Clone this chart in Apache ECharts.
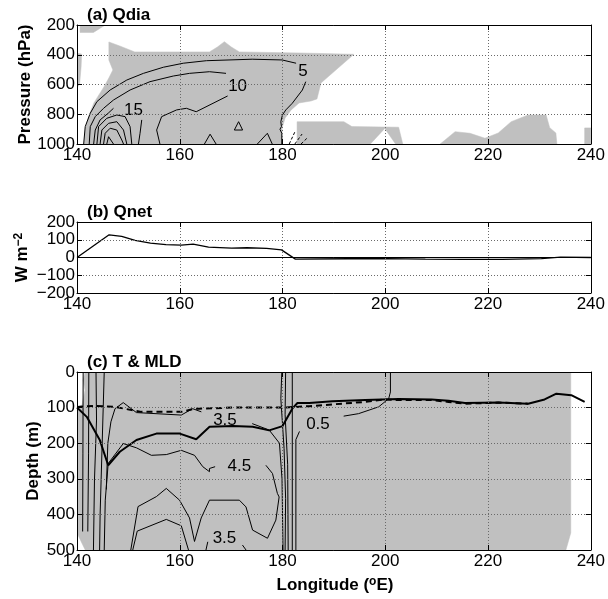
<!DOCTYPE html>
<html><head><meta charset="utf-8">
<script src="https://cdn.jsdelivr.net/npm/echarts@6.0.0/dist/echarts.min.js"></script>
<style>html,body{margin:0;padding:0;background:#fff}#c{width:608px;height:599px}</style>
</head><body><div id="c"></div><script>
// ---------- ticks ----------
const lonTicks=[140,160,180,200,220,240];
const presTicks=[200,400,600,800,1000];
const qnetTicks=[-200,-100,0,100,200];
const depthTicks=[0,100,200,300,400,500];

// ---------- (a) Qdia shading (lon, hPa) ----------
const qdiaShadeMain=[[141.36,1000],[141.65,885],[142.52,791],[143.29,724],[144.26,670],[145.23,617],[146.2,556],[146.98,502],[146.2,435],[146.2,314],[148.33,341],[151.24,381],[165.78,381],[167.33,348],[168.68,312],[170.04,348],[171.59,381],[183.22,388],[193.88,397],[187.48,590],[186.7,697],[185.54,711],[183.22,724],[181.67,771],[180.5,825],[179.92,892],[179.92,1000]];
const qdiaShadeTopLeft=[[140.6,200],[145.5,200],[143.2,250],[140.6,250]];
const qdiaShadeLeftEdge=[[140,390],[140.9,395],[140.8,480],[140.5,600],[140,620]];
const qdiaShadeStrip=[[182.83,1000],[182.83,850],[191.94,850],[193.5,883],[202.6,887],[203.4,1000],[202.0,1000],[199.9,895],[197.1,1000]];
const qdiaShadeEast=[[210.68,1000],[213.59,917],[216.49,928],[219.4,961],[221.98,926],[224.5,850],[227.8,805],[231.3,805],[232.0,890],[233.2,926],[233.4,1000]];
const qdiaShadeEdge=[[238.8,1000],[238.8,892],[240,892],[240,1000]];

// ---------- (a) Qdia contours ----------
const qdia5a=[[141.3,1000],[141.6,883],[142.58,793],[143.88,715],[146.45,637],[149.69,570],[152.93,525],[156.8,484],[160.68,457],[165.19,440],[174.1,430],[179.92,435],[182.64,457]];
const qdia5b=[[184.52,581],[183.86,637],[181.9,726],[180.64,771],[179.98,805],[179.67,850],[179.79,883],[179.5,901],[179.86,928],[179.86,1000]];
const qdia10a=[[142.38,1000],[142.58,883],[143.55,816],[145.17,760],[147.11,704],[150.33,637],[154.2,581],[158.74,543],[161.9,525],[165.78,514],[169.0,525]];
const qdia10b=[[169.32,677],[163.2,783],[161.3,760],[159.38,771],[156.47,816],[155.5,906],[156.14,1000]];
const qdia15a=[[143.24,1000],[143.55,906],[144.5,838],[146.07,793],[147.1,760]];
const qdia15b=[[152.6,838],[152.27,928],[151.96,1000]];
const qdia20=[[143.88,1000],[144.2,883],[145.8,827],[147.75,805],[149.36,816],[150.33,883],[150.66,1000]];
const qdia25=[[144.5,1000],[144.84,906],[146.14,861],[147.75,850],[149.05,906],[149.69,1000]];
const qdia30=[[145.17,1000],[145.48,928],[146.45,894],[147.75,906],[148.72,973],[149.05,1000]];
const qdia35=[[145.8,1000],[146.14,951],[147.1,1000]];
const qdiaTri1=[[170.62,906],[171.45,850],[172.23,906],[170.62,906]];
const qdiaTri2=[[164.8,1000],[165.9,934],[167.07,1000]];
const qdiaTri3=[[175.1,1000],[177.05,928],[178.0,1000]];
const qdiaNeg1=[[181.3,1000],[182.4,919]];
const qdiaNeg2=[[182.4,1000],[183.8,933]];
const qdiaNeg3=[[183.6,1000],[185.0,953]];
const qdiaLabels=[[184.0,514,'5'],[171.26,615,'10'],[151.0,771,'15']];

// ---------- (b) Qnet ----------
const qnetLon=[140,146.25,148.7,151.3,154.3,157.3,160.3,162.6,165.6,170.1,173.1,176.9,179.8,182.5,192.7,200.2,207.8,215.3,222.8,230.4,234.1,240];
const qnetVal=[0,128,119,96,81,72,70,75,58,53,55,51,43,-9,-7,-6,-9,-11,-11,-6,2,0];

// ---------- (c) T & MLD ----------
const tShade=[[140,100],[140.97,93],[141.55,51],[141.2,23],[141.55,0],[236.1,0],[236.1,452],[235.15,500],[141.6,500],[140,452]];
const mldLon=[140,141.9,144.46,146.07,148.33,151.57,155.45,160,163.2,165.8,170.3,174.2,177.4,180,181.9,182.9,185.2,189.7,196.1,202.6,209,212.3,215.5,222,227.8,231,233.3,236.2,238.8];
const mldDepth=[100,126,192,262,224,191,173,173,189,154,152,154,164,152,103,87,87,82,79,76,77,81,87,86,89,77,61,65,84];
const ildLon=[140,143.5,147.4,152.5,160.3,162.9,163.8,170.3,180,185.2,189.7,196.1,200,202.6,209,212.3,215.5,222,227.8];
const ildDepth=[98,95,98,112,112,103,103,100,100,96,91,84,77,79,79,84,89,86,89];
const tV1=[[141.2,0],[141.15,230],[141.1,448]];
const tV2=[[142.3,0],[142.25,230],[142.1,448]];
const tV3=[[143.7,0],[143.8,135],[143.4,303],[143.2,500]];
const tV4=[[145.3,0],[145.1,100],[144.8,250],[144.5,400],[144.4,500]];
const t35a=[[145.7,330],[146.0,200],[146.6,140],[147.4,103],[149.0,86],[151.57,114],[160.3,121],[162.5,103],[164.2,112]];
const t35b=[[174.1,145],[177.4,163],[179.4,200],[179.9,300],[180.1,500]];
const t45a=[[145.3,500],[145.5,360],[146.07,257],[149.0,201],[151.57,213],[154.48,234],[157.38,232],[160.29,220],[162.87,234],[164.48,266],[165.78,280],[165.78,271],[166.88,266]];
const t45b=[[176.76,262],[178.04,285],[179.0,341],[179.34,351],[178.7,416],[177.07,467],[174.17,444],[172.89,379],[171.6,360],[165.78,360],[164.17,410],[162.87,476],[161.9,410],[159.96,360],[157.38,327],[155.45,350],[151.88,378],[150.47,500]];
const tInner=[[150.85,500],[151.72,447],[157.38,414],[160.3,432],[161.7,500]];
const t35c1=[[165.1,500],[165.45,477]];
const t35c2=[[172.2,486],[172.9,500]];
const t05a=[[201,0],[201,56],[200.66,75],[198.7,98],[194.8,117],[191.9,124]];
const t05b=[[183.3,167],[182.6,190],[182.6,500]];
const tVa=[[179.86,0],[179.67,75],[180.3,215],[180.6,355],[180.5,500]];
const tVb=[[180.6,0],[180.5,120],[181.0,260],[181.1,500]];
const tVc=[[181.9,0],[181.9,500]];
const tLabels=[[168.8,135,'3.5'],[171.6,266,'4.5'],[168.7,467,'3.5'],[186.9,147,'0.5']];

// ---------- layout / style ----------
const FONT='"Liberation Sans", Arial, Helvetica, sans-serif';
const GRAY='#c0c0c0';
const grids=[
  {left:77, top:25, width:516, height:119},
  {left:77, top:222, width:516, height:71},
  {left:77, top:372, width:516, height:178}
];
const yDefs=[
  {ticks:presTicks, inverse:true},
  {ticks:qnetTicks, inverse:false},
  {ticks:depthTicks, inverse:true}
];
const minus=v=>String(v).replace('-','\u2212');
const splitStyle={show:true, lineStyle:{color:'#6a6a6a', type:[1,2], width:1}};
const xAxis=[], yAxis=[];
grids.forEach((g,i)=>{
  const base={gridIndex:i, type:'value', min:lonTicks[0], max:lonTicks[lonTicks.length-1], interval:lonTicks[1]-lonTicks[0], z:5,
    axisLine:{show:true,onZero:false,lineStyle:{color:'#000',width:1}},
    axisTick:{show:true,inside:true,length:5,lineStyle:{color:'#000'}}};
  xAxis.push(Object.assign({},base,{position:'bottom',
    axisLabel:{show:true,fontSize:17,fontFamily:FONT,color:'#000',margin:3},
    splitLine:splitStyle}));
  xAxis.push(Object.assign({},base,{position:'top',axisLabel:{show:false},splitLine:{show:false}}));
  const yd=yDefs[i];
  const ybase={gridIndex:i, type:'value', min:yd.ticks[0], max:yd.ticks[yd.ticks.length-1], interval:yd.ticks[1]-yd.ticks[0], inverse:yd.inverse, z:5,
    axisLine:{show:true,onZero:false,lineStyle:{color:'#000',width:1}},
    axisTick:{show:true,inside:true,length:5,lineStyle:{color:'#000'}}};
  yAxis.push(Object.assign({},ybase,{position:'left',
    axisLabel:{show:true,fontSize:17,fontFamily:FONT,color:'#000',margin:2,formatter:minus},
    splitLine:splitStyle}));
  yAxis.push(Object.assign({},ybase,{position:'right',axisLabel:{show:false},splitLine:{show:false}}));
});

function polySeries(gi, polys){
  return {type:'custom', xAxisIndex:2*gi, yAxisIndex:2*gi, coordinateSystem:'cartesian2d', silent:true, clip:true, z:1, animation:false,
    data: polys.map(p=>p[0]),
    renderItem:(params, api)=>{
      const poly=polys[params.dataIndex];
      return {type:'polygon', shape:{points: poly.map(pt=>api.coord(pt))}, style:{fill:GRAY, stroke:GRAY, lineWidth:0.5}};
    }};
}
function lineSeries(gi, pts, w, type){
  return {type:'line', xAxisIndex:2*gi, yAxisIndex:2*gi, data:pts, symbol:'none', showSymbol:false, silent:true, z:3, animation:false,
    lineStyle:{color:'#000', width:w||1, type:type||'solid'}};
}
function labelSeries(gi, labs){
  return {type:'scatter', xAxisIndex:2*gi, yAxisIndex:2*gi, symbol:'circle', symbolSize:2, itemStyle:{color:'rgba(0,0,0,0)'}, silent:true, z:4, animation:false,
    data: labs.map(l=>({value:[l[0],l[1]], name:l[2]})),
    label:{show:true, position:'inside', formatter:p=>p.name, fontSize:17, fontFamily:FONT, color:'#000', opacity:1}};
}
const zip=(xs,ys)=>xs.map((x,k)=>[x,ys[k]]);

const series=[];
series.push(polySeries(0,[qdiaShadeMain,qdiaShadeTopLeft,qdiaShadeLeftEdge,qdiaShadeStrip,qdiaShadeEast,qdiaShadeEdge]));
[qdia5a,qdia5b,qdia10a,qdia10b,qdia15a,qdia15b,qdia20,qdia25,qdia30,qdia35,qdiaTri1,qdiaTri2,qdiaTri3].forEach(c=>series.push(lineSeries(0,c,1)));
[qdiaNeg1,qdiaNeg2,qdiaNeg3].forEach(c=>series.push(lineSeries(0,c,1,[3,2])));
series.push(labelSeries(0,qdiaLabels));

const qnetSeries=lineSeries(1, zip(qnetLon,qnetVal), 1.3);
qnetSeries.markLine={silent:true, symbol:'none', label:{show:false}, animation:false, lineStyle:{color:'#000',width:1,type:'solid'}, data:[{yAxis:0}]};
series.push(qnetSeries);

series.push(polySeries(2,[tShade]));
[tV1,tV2,tV3,tV4,t35a,t35b,t45a,t45b,tInner,t35c1,t35c2,t05a,t05b,tVa,tVb,tVc].forEach(c=>series.push(lineSeries(2,c,1)));
series.push(lineSeries(2, zip(ildLon,ildDepth), 2, [6,4]));
series.push(lineSeries(2, zip(mldLon,mldDepth), 2));
series.push(labelSeries(2,tLabels));

const bold='bold 17px '+FONT;
function vText(x,y,txt,rich){
  return {type:'text', x:x, y:y, rotation:Math.PI/2, z:10,
    style:{text:txt, font:bold, fill:'#000', align:'center', verticalAlign:'middle', textAlign:'center', textVerticalAlign:'middle', rich:rich}};
}
function tText(x,y,txt){
  return {type:'text', x:x, y:y, z:10,
    style:{text:txt, font:bold, fill:'#000', align:'left', verticalAlign:'bottom', textAlign:'left', textVerticalAlign:'bottom'}};
}
const supRich={n:{font:bold, fill:'#000'}, s:{font:'bold 12px '+FONT, fill:'#000', verticalAlign:'top', padding:[0,0,6,0]}};
const graphic=[
  tText(87,24,'(a) Qdia'),
  tText(87,221,'(b) Qnet'),
  tText(87,371,'(c) T & MLD'),
  vText(25,84.5,'Pressure (hPa)'),
  vText(22,257.5,'{n|W m}{s|\u22122}',supRich),
  vText(33,461,'Depth (m)'),
  {type:'text', x:335, y:585, z:10, style:{text:'{n|Longitude (}{s|o}{n|E)}', rich:supRich, font:bold, fill:'#000', align:'center', verticalAlign:'middle', textAlign:'center', textVerticalAlign:'middle'}}
];

const chart=echarts.init(document.getElementById('c'),null,{renderer:'canvas'});
chart.setOption({animation:false, backgroundColor:'#fff', grid:grids, xAxis:xAxis, yAxis:yAxis, series:series, graphic:graphic});
</script></body></html>
